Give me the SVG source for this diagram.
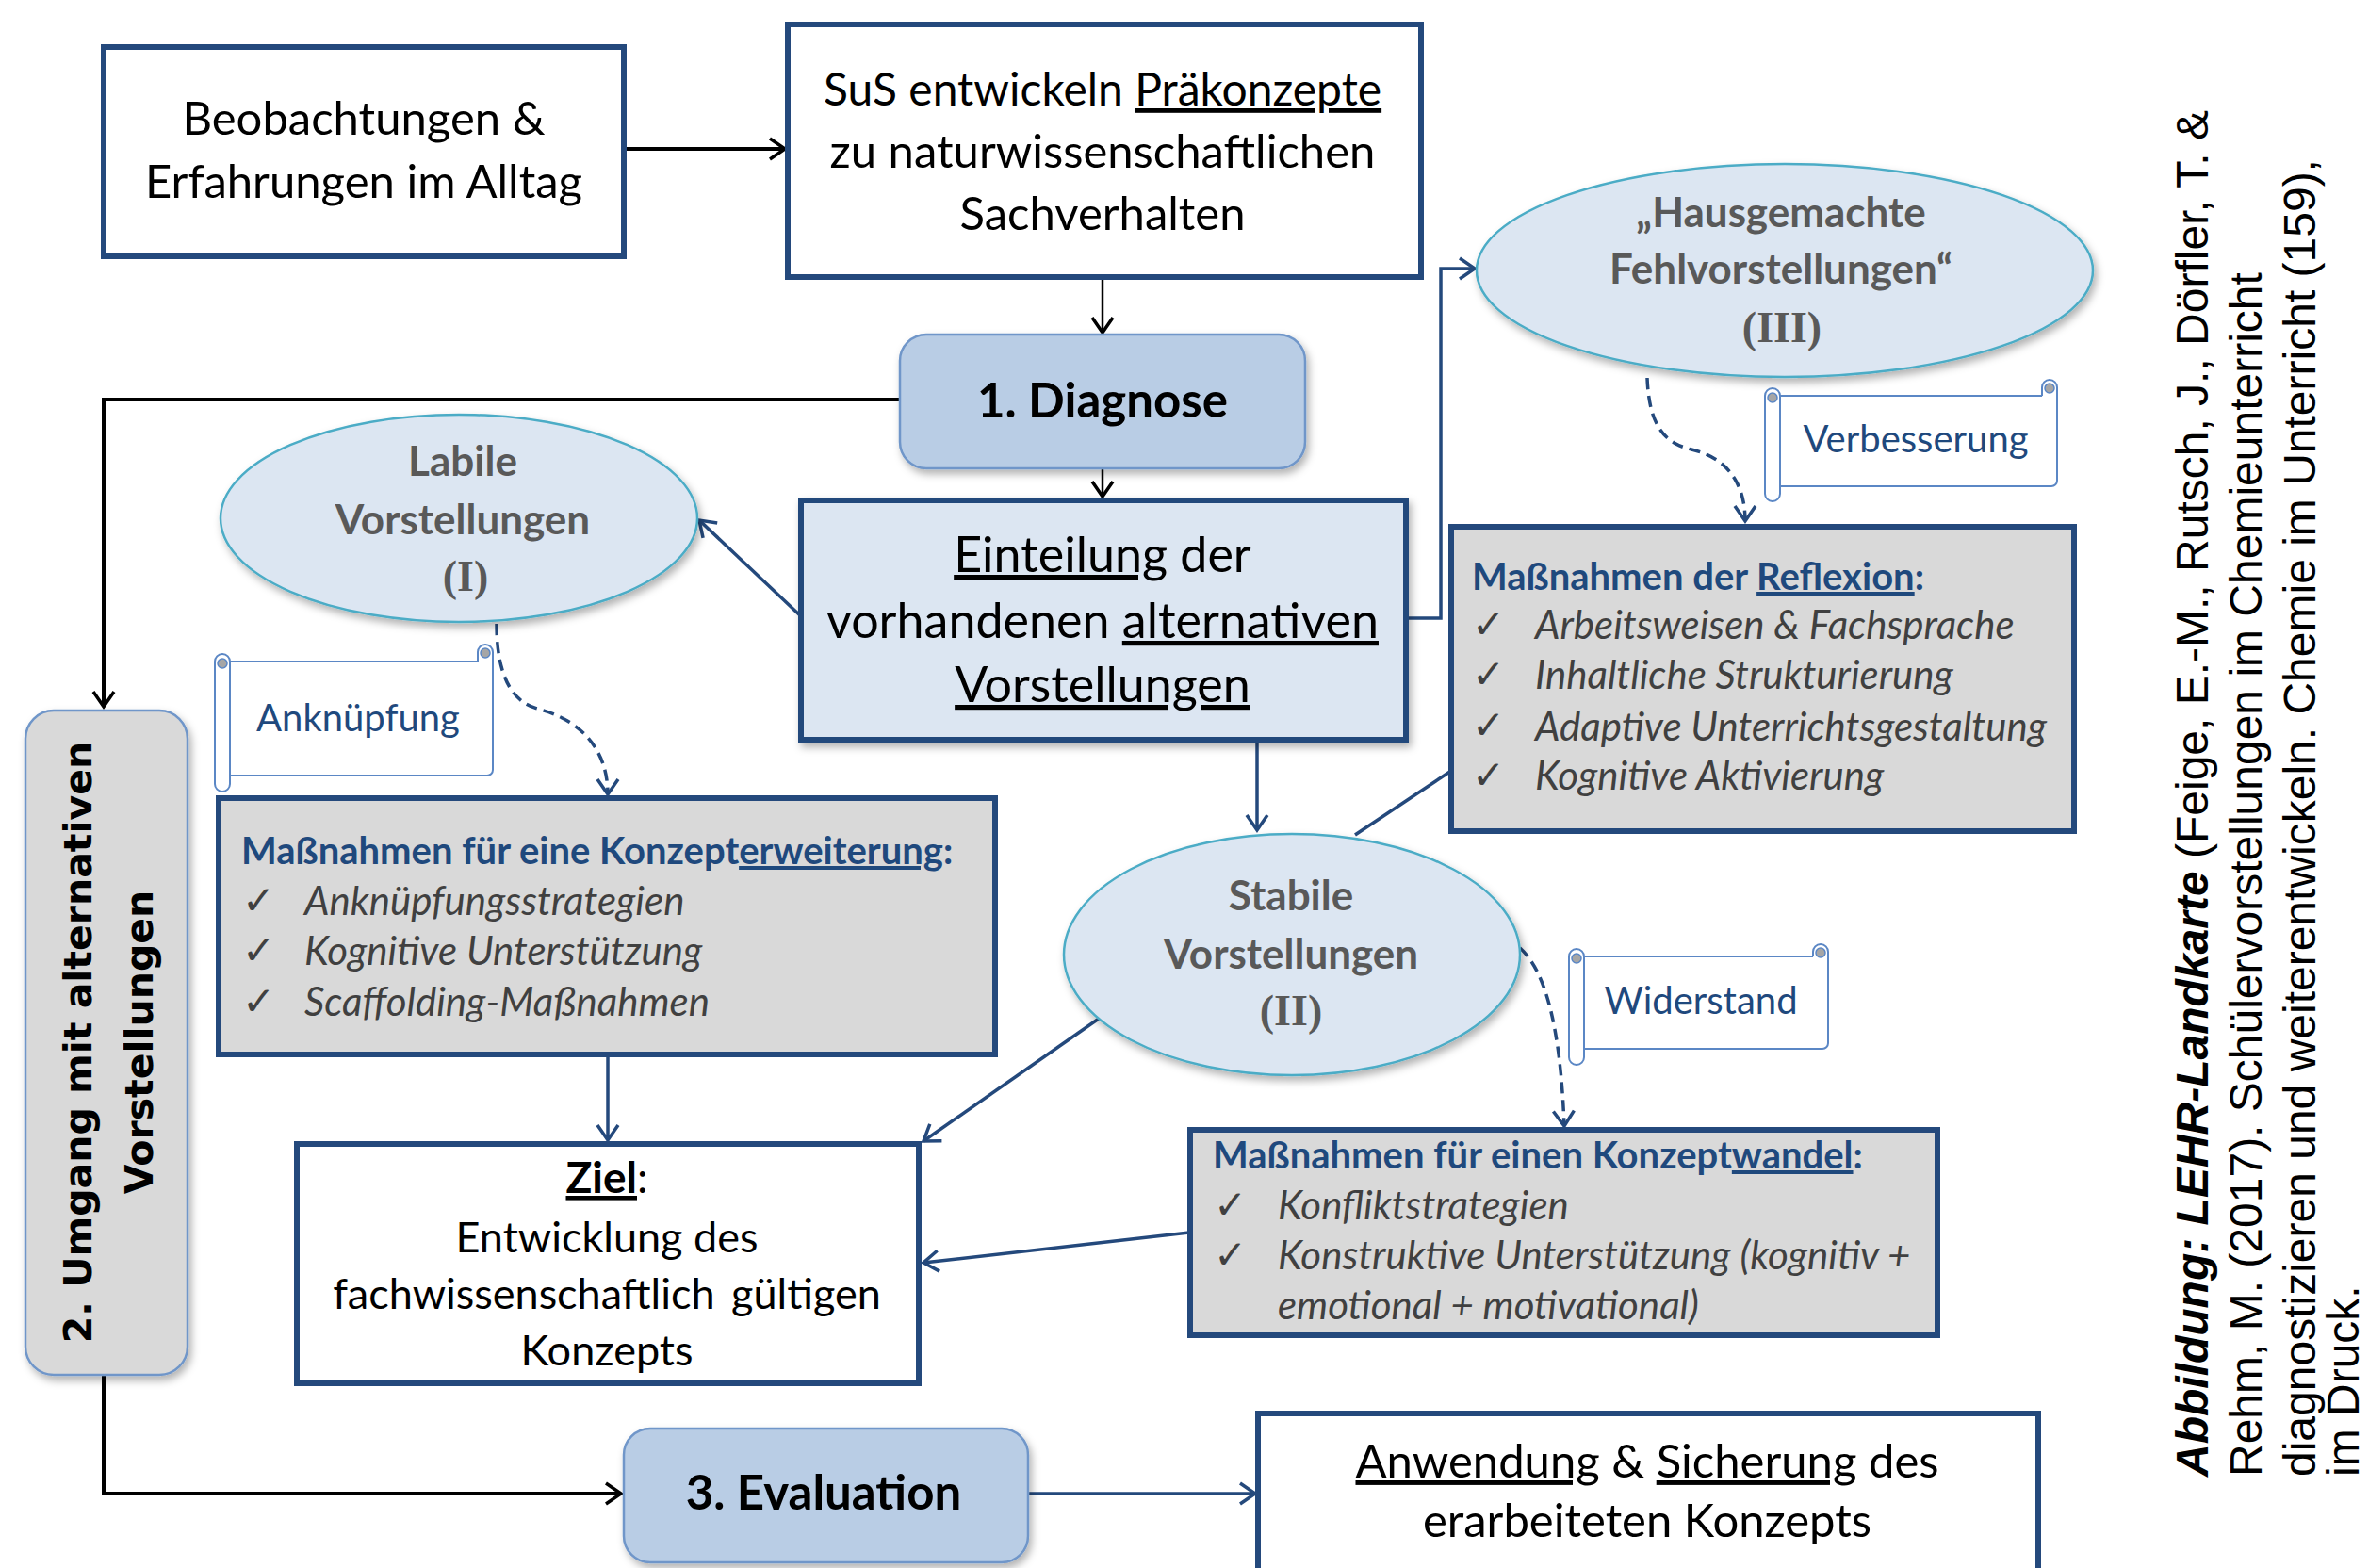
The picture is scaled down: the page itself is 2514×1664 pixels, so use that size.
<svg xmlns="http://www.w3.org/2000/svg" width="2514" height="1664" viewBox="0 0 2514 1664">
<defs>
<style>
.t{font-family:Lato,"Open Sans",sans-serif;fill:#000}
.c{text-anchor:middle}
.b{font-weight:bold}
.box{stroke:#24497C;stroke-width:6}
.wb{fill:#fff}
.gb{fill:#D9D9D9}
.lb{fill:#DCE6F2}
.rb{fill:#B9CDE5;stroke:#6F96C9;stroke-width:2.5}
.el{fill:#DCE6F2;stroke:#4BACC6;stroke-width:2.5}
.elt{fill:#595959;font-weight:bold;font-size:44px}
.rn{font-family:"Liberation Serif",serif;font-weight:bold;font-size:46px}
.ttl{fill:#1F497D;font-weight:bold;font-size:40px}
.it{fill:#404040;font-style:italic;font-size:42px}
.ck{font-family:"DejaVu Sans",sans-serif;fill:#404040;font-size:42px}
.sc{fill:#1F497D;font-size:40px}
.scr{fill:#fff;stroke:#5B87C5;stroke-width:2}
.knob{fill:#A6A6A6;stroke:#5B87C5;stroke-width:1.5}
.u{text-decoration:underline}
.k{fill:none;stroke:#000}
.bl{fill:none;stroke:#24497C;stroke-width:3.5}
.dash{stroke-dasharray:12 7}
.cite{font-family:"Liberation Sans",Arial,sans-serif;font-size:48px;fill:#000}
</style>
<marker id="ak" markerUnits="userSpaceOnUse" viewBox="-20 -20 40 40" markerWidth="40" markerHeight="40" refX="0" refY="0" orient="auto" overflow="visible"><path d="M-16,-11 L0,0 L-16,11" fill="none" stroke="#000" stroke-width="3.5"/></marker>
<marker id="ab" markerUnits="userSpaceOnUse" viewBox="-20 -20 40 40" markerWidth="40" markerHeight="40" refX="0" refY="0" orient="auto" overflow="visible"><path d="M-16,-11 L0,0 L-16,11" fill="none" stroke="#24497C" stroke-width="3.5" stroke-dasharray="none"/></marker>
<filter id="sh" x="-10%" y="-10%" width="130%" height="140%"><feDropShadow dx="3" dy="5" stdDeviation="4" flood-color="#000" flood-opacity="0.3"/></filter>
</defs>
<rect width="2514" height="1664" fill="#fff"/>

<g id="connectors">
<path class="k" stroke-width="4" d="M662 158 H833" marker-end="url(#ak)"/>
<path class="k" stroke-width="2.5" d="M1170 296 V353" marker-end="url(#ak)"/>
<path class="k" stroke-width="2.5" d="M1170 498 V527" marker-end="url(#ak)"/>
<path class="k" stroke-width="4" d="M955 424 H110 V750" marker-end="url(#ak)"/>
<path class="k" stroke-width="4" d="M110 1460 V1585 H659" marker-end="url(#ak)"/>
<path class="bl" d="M850 654 L742 552" marker-end="url(#ab)"/>
<path class="bl" stroke-width="3" d="M1495 656 H1529 V285 H1565" marker-end="url(#ab)"/>
<path class="bl" d="M1334 788 V881" marker-end="url(#ab)"/>
<path class="bl" d="M1438 886 L1540 818"/>
<path class="bl" d="M1166 1081 L980 1211" marker-end="url(#ab)"/>
<path class="bl" d="M1262 1308 L980 1340" marker-end="url(#ab)"/>
<path class="bl" stroke-width="3" d="M645 1122 V1210" marker-end="url(#ab)"/>
<path class="bl" stroke-width="3" d="M1092 1585 H1332" marker-end="url(#ab)"/>
<path class="bl dash" d="M527 662 C527 720 545 745 570 752 C610 762 645 790 645 843" marker-end="url(#ab)"/>
<path class="bl dash" d="M1748 401 C1750 450 1765 470 1795 477 C1830 485 1852 510 1852 553" marker-end="url(#ab)"/>
<path class="bl dash" d="M1613 1006 C1640 1030 1656 1090 1660 1195" marker-end="url(#ab)"/>
</g>

<g id="beobachtungen">
<rect class="box wb" x="110" y="50" width="552" height="222"/>
<text class="t c" x="386" y="143" font-size="49">Beobachtungen &amp;</text>
<text class="t c" x="386" y="210" font-size="49">Erfahrungen im Alltag</text>
</g>

<g id="praekonzepte">
<rect class="box wb" x="836" y="26" width="672" height="268"/>
<text class="t c" x="1170" y="112" font-size="48">SuS entwickeln <tspan class="u">Präkonzepte</tspan></text>
<text class="t c" x="1170" y="178" font-size="49">zu naturwissenschaftlichen</text>
<text class="t c" x="1170" y="244" font-size="49">Sachverhalten</text>
</g>

<g id="diagnose">
<rect class="rb" x="955" y="355" width="430" height="142" rx="28" filter="url(#sh)"/>
<text class="t c b" x="1170" y="443" font-size="51">1. Diagnose</text>
</g>

<g id="einteilung">
<rect class="box lb" x="850" y="531" width="642" height="254" filter="url(#sh)"/>
<text class="t c" x="1170" y="607" font-size="52"><tspan class="u">Einteilung</tspan> der</text>
<text class="t c" x="1170" y="677" font-size="52">vorhandenen <tspan class="u">alternativen</tspan></text>
<text class="t c" x="1170" y="745" font-size="52"><tspan class="u">Vorstellungen</tspan></text>
</g>

<g id="labile">
<ellipse class="el" cx="487" cy="550" rx="253" ry="110" filter="url(#sh)"/>
<text class="t c elt" x="491" y="505">Labile</text>
<text class="t c elt" x="491" y="567">Vorstellungen</text>
<text class="t c elt rn" x="494" y="627">(I)</text>
</g>

<g id="hausgemacht">
<ellipse class="el" cx="1894" cy="287" rx="327" ry="113" filter="url(#sh)"/>
<text class="t c elt" x="1890" y="241" font-size="47">„Hausgemachte</text>
<text class="t c elt" x="1890" y="301" font-size="47">Fehlvorstellungen“</text>
<text class="t c elt rn" x="1891" y="363" font-size="48">(III)</text>
</g>

<g id="stabile">
<ellipse class="el" cx="1371" cy="1013" rx="242" ry="128" filter="url(#sh)"/>
<text class="t c elt" x="1370" y="966">Stabile</text>
<text class="t c elt" x="1370" y="1028">Vorstellungen</text>
<text class="t c elt rn" x="1370" y="1088">(II)</text>
</g>

<g id="anknuepfung">
<rect class="scr" x="236" y="702" width="287" height="121" rx="6"/>
<path class="scr" d="M507 702 V692 A8 8 0 0 1 523 692 V815"/>
<circle class="knob" cx="515" cy="693" r="5"/>
<rect class="scr" x="228" y="694" width="16" height="146" rx="8"/>
<circle class="knob" cx="236" cy="704" r="5"/>
<text class="t c sc" x="380" y="776">Anknüpfung</text>
</g>

<g id="verbesserung">
<rect class="scr" x="1881" y="420" width="302" height="96" rx="6"/>
<path class="scr" d="M2167 420 V411 A8 8 0 0 1 2183 411 V508"/>
<circle class="knob" cx="2175" cy="412" r="5"/>
<rect class="scr" x="1873" y="412" width="16" height="120" rx="8"/>
<circle class="knob" cx="1881" cy="422" r="5"/>
<text class="t c sc" x="2033" y="480">Verbesserung</text>
</g>

<g id="widerstand">
<rect class="scr" x="1673" y="1015" width="267" height="98" rx="6"/>
<path class="scr" d="M1924 1015 V1010 A8 8 0 0 1 1940 1010 V1105"/>
<circle class="knob" cx="1932" cy="1011" r="5"/>
<rect class="scr" x="1665" y="1007" width="16" height="123" rx="8"/>
<circle class="knob" cx="1673" cy="1017" r="5"/>
<text class="t c sc" x="1805" y="1076">Widerstand</text>
</g>

<g id="reflexion">
<rect class="box gb" x="1540" y="559" width="661" height="323"/>
<text class="t ttl" x="1562" y="626" font-size="41">Maßnahmen der <tspan class="u">Reflexion</tspan>:</text>
<text class="ck" x="1562" y="677">✓</text>
<text class="ck" x="1562" y="730">✓</text>
<text class="ck" x="1562" y="784">✓</text>
<text class="ck" x="1562" y="837">✓</text>
<text class="t it" x="1629" y="678" font-size="43">Arbeitsweisen &amp; Fachsprache</text>
<text class="t it" x="1629" y="731" font-size="43">Inhaltliche Strukturierung</text>
<text class="t it" x="1629" y="786" font-size="43">Adaptive Unterrichtsgestaltung</text>
<text class="t it" x="1629" y="838" font-size="43">Kognitive Aktivierung</text>
</g>

<g id="erweiterung">
<rect class="box gb" x="232" y="847" width="824" height="272"/>
<text class="t ttl" x="256" y="917">Maßnahmen für eine Konzept<tspan class="u">erweiterung</tspan>:</text>
<text class="ck" x="257" y="970">✓</text>
<text class="ck" x="257" y="1023">✓</text>
<text class="ck" x="257" y="1077">✓</text>
<text class="t it" x="323" y="971">Anknüpfungsstrategien</text>
<text class="t it" x="323" y="1024">Kognitive Unterstützung</text>
<text class="t it" x="323" y="1078">Scaffolding-Maßnahmen</text>
</g>

<g id="wandel">
<rect class="box gb" x="1263" y="1199" width="793" height="218"/>
<text class="t ttl" x="1287" y="1240">Maßnahmen für einen Konzept<tspan class="u">wandel</tspan>:</text>
<text class="ck" x="1288" y="1293">✓</text>
<text class="ck" x="1288" y="1346">✓</text>
<text class="t it" x="1356" y="1294" font-size="41">Konfliktstrategien</text>
<text class="t it" x="1356" y="1347" font-size="41">Konstruktive Unterstützung (kognitiv +</text>
<text class="t it" x="1356" y="1400" font-size="41">emotional + motivational)</text>
</g>

<g id="ziel">
<rect class="box wb" x="315" y="1214" width="660" height="254"/>
<text class="t c" x="644" y="1266" font-size="46"><tspan class="u b">Ziel</tspan>:</text>
<text class="t c" x="644" y="1329" font-size="45">Entwicklung des</text>
<text class="t c" x="644" y="1389" font-size="45">fachwissenschaftlich <tspan dx="6">gültigen</tspan></text>
<text class="t c" x="644" y="1449" font-size="45">Konzepts</text>
</g>

<g id="umgang">
<rect x="27" y="754" width="172" height="705" rx="30" fill="#D9D9D9" stroke="#6F96C9" stroke-width="2.5" filter="url(#sh)"/>
<text class="c" font-family="'DejaVu Sans',Verdana,sans-serif" font-weight="bold" font-size="41" transform="translate(97,1106) rotate(-90)">2. Umgang mit alternativen</text>
<text class="c" font-family="'DejaVu Sans',Verdana,sans-serif" font-weight="bold" font-size="41" transform="translate(162,1106) rotate(-90)">Vorstellungen</text>
</g>

<g id="evaluation">
<rect class="rb" x="662" y="1516" width="429" height="142" rx="28" filter="url(#sh)"/>
<text class="t c b" x="874" y="1602" font-size="51">3. Evaluation</text>
</g>

<g id="anwendung">
<rect class="box wb" x="1335" y="1500" width="828" height="220"/>
<text class="t c" x="1748" y="1568" font-size="49"><tspan class="u">Anwendung</tspan> &amp; <tspan class="u">Sicherung</tspan> des</text>
<text class="t c" x="1748" y="1631" font-size="49">erarbeiteten Konzepts</text>
</g>

<g id="citation">
<text class="cite" transform="translate(2343,1567) rotate(-90)"><tspan font-weight="bold" font-style="italic">Abbildung: LEHR-Landkarte</tspan> (Feige, E.-M., Rutsch, J., Dörfler, T. &amp;</text>
<text class="cite" transform="translate(2400,1567) rotate(-90)">Rehm, M. (2017). Schülervorstellungen im Chemieunterricht</text>
<text class="cite" transform="translate(2457,1567) rotate(-90)">diagnostizieren und weiterentwickeln. Chemie im Unterricht (159),</text>
<text class="cite" transform="translate(2503,1567) rotate(-90)">im Druck.</text>
</g>
</svg>
